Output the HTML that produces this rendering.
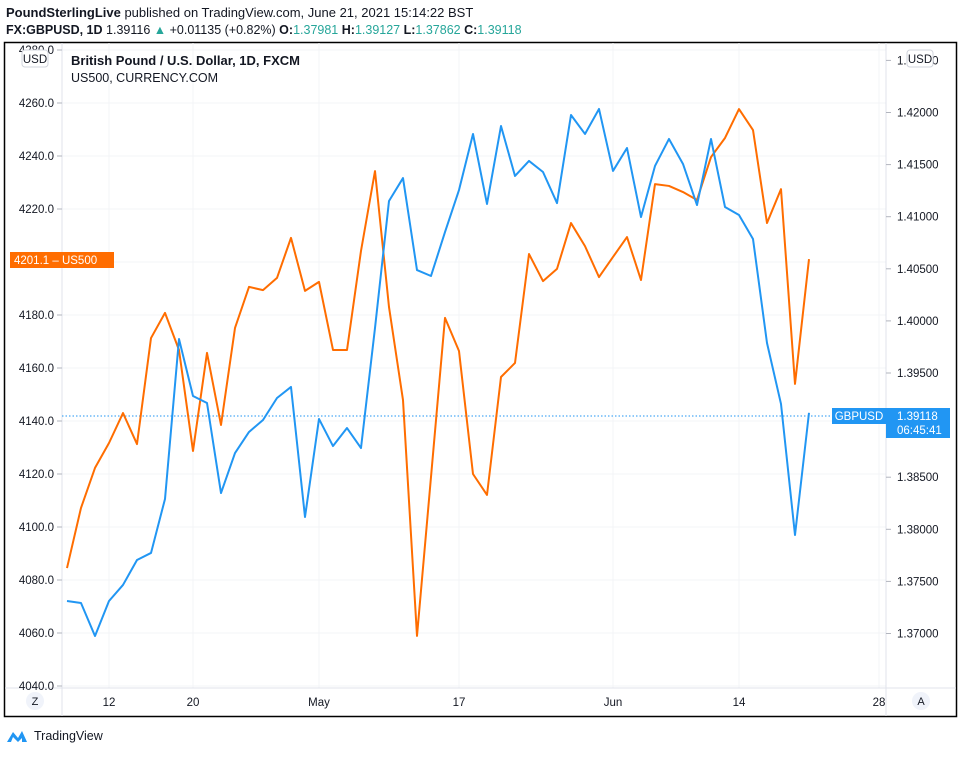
<!DOCTYPE html>
<html><head><meta charset="utf-8"><style>
body{margin:0;background:#fff;font-family:"Liberation Sans",sans-serif;}
svg text{font-family:"Liberation Sans",sans-serif;}
</style></head><body>
<svg id="c" width="962" height="753" xmlns="http://www.w3.org/2000/svg">
<text x="6" y="17" font-size="13" fill="#131722"><tspan font-weight="bold">PoundSterlingLive</tspan> published on TradingView.com, June 21, 2021 15:14:22 BST</text>
<text x="6" y="34" font-size="12.5" fill="#131722"><tspan font-weight="bold">FX:GBPUSD, 1D</tspan> 1.39116 <tspan fill="#26a69a">▲</tspan> +0.01135 (+0.82%) <tspan font-weight="bold">O:</tspan><tspan fill="#26a69a">1.37981</tspan> <tspan font-weight="bold">H:</tspan><tspan fill="#26a69a">1.39127</tspan> <tspan font-weight="bold">L:</tspan><tspan fill="#26a69a">1.37862</tspan> <tspan font-weight="bold">C:</tspan><tspan fill="#26a69a">1.39118</tspan></text>
<rect x="4.5" y="42.5" width="952" height="674" fill="#fff" stroke="#000" stroke-width="1.5"/>
<g id="grid"></g>
<line x1="62" y1="43" x2="62" y2="716" stroke="#e0e3eb"/>
<line x1="886" y1="43" x2="886" y2="716" stroke="#e0e3eb"/>
<line x1="5" y1="688" x2="956" y2="688" stroke="#e0e3eb"/>
<g id="axes"></g>
<line x1="62" y1="416" x2="886" y2="416" stroke="#2196f3" stroke-dasharray="1.5,2"/>
<g id="series"></g>
<text x="71" y="65" font-size="13" font-weight="bold" fill="#131722">British Pound / U.S. Dollar, 1D, FXCM</text>
<text x="71" y="82" font-size="12.5" fill="#131722">US500, CURRENCY.COM</text>
<rect x="22" y="50" width="26" height="17" rx="3" fill="#fff" stroke="#d1d4dc"/>
<text x="35" y="63" font-size="11.5" text-anchor="middle" fill="#131722">USD</text>
<rect x="907" y="50" width="26" height="17" rx="3" fill="#fff" stroke="#d1d4dc"/>
<text x="920" y="63" font-size="11.5" text-anchor="middle" fill="#131722">USD</text>
<rect x="10" y="252" width="104" height="16" fill="#ff6d00"/>
<text x="14" y="264" font-size="11.5" fill="#fff">4201.1 – US500</text>
<rect x="832" y="408" width="54" height="16" fill="#2196f3"/>
<text x="859" y="420" font-size="11.5" fill="#fff" text-anchor="middle">GBPUSD</text>
<rect x="886" y="408" width="64" height="30" fill="#2196f3"/>
<text x="897" y="420" font-size="11.5" fill="#fff">1.39118</text>
<text x="897" y="434" font-size="11.5" fill="#fff">06:45:41</text>
<circle cx="35" cy="701" r="9" fill="#f0f3fa"/>
<text x="35" y="705" font-size="11" text-anchor="middle" fill="#131722">Z</text>
<circle cx="921" cy="701" r="9" fill="#f0f3fa"/>
<text x="921" y="705" font-size="11" text-anchor="middle" fill="#131722">A</text>
<g><path d="M7 742 L13 732 L18 738 L22 731 L27 742 L22 742 L22 738 L18 742 L13 737 L11 742Z" fill="#2196f3"/><text x="34" y="740" font-size="12.5" fill="#131722">TradingView</text></g>
</svg>
<script>
const usValues=[4084.5,4107.2,4122.3,4131.7,4143.0,4131.3,4171.3,4180.8,4166.8,4128.7,4165.7,4138.5,4175.1,4190.6,4189.4,4194.0,4209.1,4189.1,4192.5,4166.8,4166.8,4204.2,4234.3,4183.0,4147.9,4058.9,4118.9,4178.9,4166.4,4120.0,4112.1,4156.6,4161.9,4203.0,4192.8,4197.4,4214.7,4206.0,4194.3,4201.9,4209.4,4193.2,4229.4,4228.7,4226.4,4223.4,4239.6,4246.8,4257.7,4249.8,4214.7,4227.5,4154.0,4201.1];
const gbpValues=[1.37312,1.37293,1.36976,1.37312,1.37466,1.37705,1.37773,1.38291,1.39826,1.39279,1.39212,1.38348,1.38732,1.38934,1.39049,1.39260,1.39366,1.38118,1.39059,1.38799,1.38972,1.38780,1.39932,1.41151,1.41371,1.40488,1.40431,1.40853,1.41256,1.41794,1.41122,1.41870,1.41391,1.41535,1.41429,1.41131,1.41976,1.41794,1.42034,1.41439,1.41659,1.40997,1.41487,1.41746,1.41506,1.41112,1.41746,1.41093,1.41016,1.40786,1.39788,1.39203,1.37945,1.39118];
const leftTicks=[4280,4260,4240,4220,4200,4180,4160,4140,4120,4100,4080,4060,4040];
const rightTicks=[1.425,1.42,1.415,1.41,1.405,1.4,1.395,1.39,1.385,1.38,1.375,1.37];
const dateLabels=["12","20","May","17","Jun","14","28"];
const dateIndex=[3,9,18,28,39,48,58];
const NS="http://www.w3.org/2000/svg";
function xS(i){return 67+14*i;}
function yL(v){return 50+(4280-v)*2.65;}
function yR(v){return 112.5+(1.42-v)*10420;}
function mk(tag,attrs,parent,txt){const e=document.createElementNS(NS,tag);for(const k in attrs)e.setAttribute(k,attrs[k]);if(txt!==undefined)e.textContent=txt;parent.appendChild(e);return e;}
const grid=document.getElementById('grid'),axes=document.getElementById('axes'),ser=document.getElementById('series');
leftTicks.forEach(t=>{const y=yL(t);
 const g=mk('line',{x1:62,x2:886,y1:y,y2:y,stroke:'#f3f4f7'},grid);
 
 
 const tx=mk('text',{x:54,y:y+4,'font-size':11.5,'text-anchor':'end',fill:'#131722'},axes,t.toFixed(1));
 
 
 mk('line',{x1:57,x2:62,y1:y,y2:y,stroke:'#b2b5be'},axes);});
rightTicks.forEach(t=>{const y=yR(t);if(y<45)return;
 const tx=mk('text',{x:897,y:y+4,'font-size':11.5,fill:'#131722'},axes,t.toFixed(5));
 
 
 mk('line',{x1:886,x2:891,y1:y,y2:y,stroke:'#b2b5be'},axes);});
dateLabels.forEach((d,k)=>{const x=xS(dateIndex[k]);
 const g=mk('line',{x1:x,x2:x,y1:43,y2:688,stroke:'#f3f4f7'},grid);
 
 
 const tx=mk('text',{x:x,y:706,'font-size':11.5,'text-anchor':'middle',fill:'#131722'},axes,d);
 
 });
const pu=mk('polyline',{points:usValues.map((v,i)=>xS(i)+','+yL(v)).join(' '),fill:'none',stroke:'#ff6d00','stroke-width':2,'stroke-linejoin':'round'},ser);


const pg=mk('polyline',{points:gbpValues.map((v,i)=>xS(i)+','+yR(v)).join(' '),fill:'none',stroke:'#2196f3','stroke-width':2,'stroke-linejoin':'round'},ser);


</script>
</body></html>
